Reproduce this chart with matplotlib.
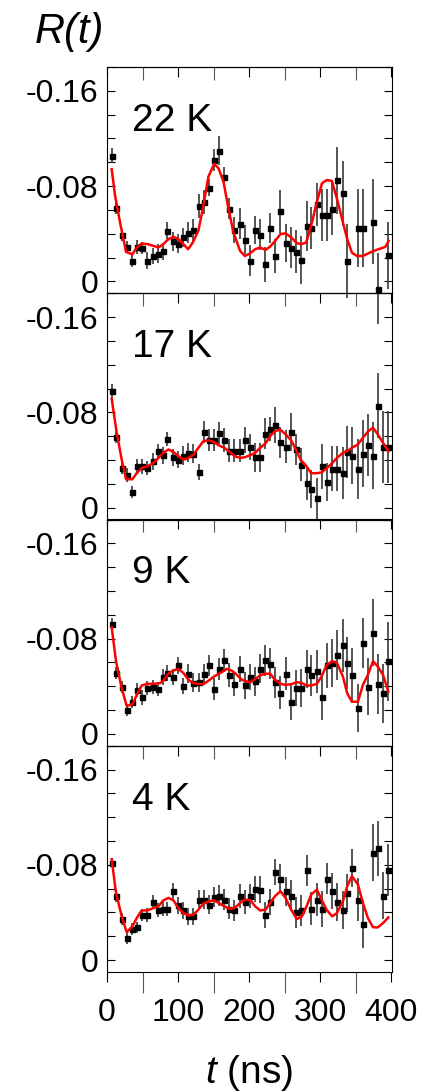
import numpy as np
import matplotlib
matplotlib.use('Agg')
import matplotlib.pyplot as plt
from matplotlib.ticker import MultipleLocator, FuncFormatter

plt.rcParams['font.family'] = ['Liberation Sans', 'DejaVu Sans']
plt.rcParams['mathtext.fontset'] = 'custom'
plt.rcParams['mathtext.it'] = 'Liberation Sans:italic'
plt.rcParams['mathtext.rm'] = 'Liberation Sans'
plt.rcParams['axes.unicode_minus'] = False

nan = np.nan

# time grid of the data points (ns)
t = [6.6, 12.2, 20.7, 27.7, 35.7, 42.7, 48.8, 56.8, 64.1, 71.2, 78.2, 85.0, 92.5,
     100.0, 106.3, 114.3, 121.4, 129.3, 136.0, 143.1, 150.7, 157.3, 165.3, 172.3,
     179.1, 186.6, 193.9, 201.9, 208.5, 215.5, 223.0, 229.6, 236.2, 244.1, 251.2,
     259.2, 265.7, 272.3, 280.8, 287.3, 295.3, 301.9, 308.9, 316.9, 323.5, 331.9,
     338.0, 344.6, 353.1, 360.1, 367.1, 374.2, 380.8, 388.3, 395.8]

# R(t) data, one list per temperature
r_22K = [-0.1055, -0.0618, -0.0392, -0.0289, -0.0173, -0.0289, -0.0281, -0.0173, -0.0213,
         -0.0233, -0.0252, -0.0426, -0.0335, -0.0315, -0.0369, -0.0409, -0.0431, -0.0630,
         -0.0667, -0.0786, -0.1018, -0.1098, -0.0879, -0.0610, -0.0431, -0.0485, -0.0349,
         -0.0173, -0.0431, -0.0392, -0.0142, -0.0448, -0.0213, -0.0590, -0.0321, -0.0284,
         -0.0250, -0.0179, -0.0468, -0.0448, -0.0647, -0.0556, -0.0556, -0.0610, -0.0848,
         -0.0738, -0.0173, nan, -0.0448, -0.0448, nan, -0.0502, 0.0062, nan, -0.0218]
e_22K = [0.0065, 0.005, 0.005, 0.005, 0.005, 0.006, 0.005, 0.007, 0.007, 0.008, 0.007,
         0.007, 0.008, 0.008, 0.008, 0.009, 0.009, 0.010, 0.010, 0.007, 0.009, 0.012, 0.008,
         0.009, 0.011, 0.013, 0.012, 0.013, 0.012, 0.013, 0.015, 0.013, 0.014, 0.018, 0.016,
         0.017, 0.018, 0.020, 0.021, 0.018, 0.018, 0.022, 0.022, 0.022, 0.028, 0.027, 0.031,
         nan, 0.033, 0.033, nan, 0.036, 0.030, nan, 0.028]

r_17K = [-0.0979, -0.0596, -0.0332, -0.0275, -0.0128, -0.0346, -0.0346, -0.0332, -0.0389,
         -0.0474, -0.0440, -0.0579, -0.0423, -0.0403, -0.0437, -0.0460, -0.0451, -0.0298,
         -0.0635, -0.0567, -0.0567, -0.0627, -0.0567, -0.0479, -0.0479, -0.0479, -0.0567,
         -0.0511, -0.0423, -0.0423, -0.0621, -0.0658, -0.0695, -0.0550, -0.0511, -0.0638,
         -0.0488, -0.0360, -0.0204, -0.0153, -0.0077, -0.0346, -0.0218, -0.0326, -0.0326,
         -0.0289, -0.0468, -0.0437, -0.0326, -0.0454, -0.0525, -0.0437, -0.0857, -0.0508,
         -0.0508]
e_17K = [0.006, 0.005, 0.005, 0.006, 0.005, 0.006, 0.006, 0.006, 0.007, 0.006, 0.007,
         0.006, 0.007, 0.007, 0.008, 0.008, 0.008, 0.007, 0.009, 0.009, 0.009, 0.009, 0.010,
         0.010, 0.010, 0.010, 0.011, 0.011, 0.012, 0.012, 0.013, 0.010, 0.015, 0.013, 0.014,
         0.016, 0.013, 0.014, 0.014, 0.016, 0.017, 0.019, 0.016, 0.019, 0.019, 0.022, 0.022,
         0.024, 0.025, 0.028, 0.026, 0.028, 0.027, 0.030, 0.030]

r_9K = [-0.0922, -0.0511, -0.0397, -0.0199, -0.0270, -0.0369, -0.0306, -0.0383, -0.0392,
        -0.0374, -0.0477, -0.0511, -0.0477, -0.0576, -0.0403, -0.0505, -0.0431, -0.0434,
        -0.0505, -0.0576, -0.0377, -0.0545, -0.0616, -0.0496, -0.0417, -0.0545, -0.0406,
        -0.0477, -0.0440, -0.0548, -0.0616, -0.0587, -0.0434, -0.0346, -0.0505, -0.0264,
        -0.0383, -0.0383, -0.0545, -0.0491, -0.0525, -0.0306, -0.0576, -0.0596, -0.0658,
        -0.0743, -0.0596, -0.0491, -0.0218, -0.0760, -0.0397, -0.0851, -0.0420, -0.0340,
        -0.0610]
e_9K = [0.005, 0.005, 0.005, 0.005, 0.005, 0.006, 0.006, 0.006, 0.006, 0.006, 0.007,
        0.007, 0.007, 0.007, 0.007, 0.008, 0.008, 0.008, 0.008, 0.009, 0.009, 0.009, 0.010,
        0.010, 0.010, 0.011, 0.011, 0.011, 0.012, 0.012, 0.013, 0.013, 0.013, 0.014, 0.014,
        0.015, 0.015, 0.016, 0.016, 0.017, 0.018, 0.019, 0.019, 0.020, 0.021, 0.022, 0.022,
        0.023, 0.020, 0.021, 0.024, 0.028, 0.025, 0.025, 0.033]

r_4K = [-0.0818, -0.0541, -0.0344, -0.0183, -0.0262, -0.0274, -0.0381, -0.0381, -0.0488,
        -0.0423, -0.0431, -0.0431, -0.0578, -0.0460, -0.0417, -0.0367, -0.0367, -0.0508,
        -0.0508, -0.0465, -0.0530, -0.0541, -0.0508, -0.0431, -0.0417, -0.0541, -0.0488,
        -0.0541, -0.0598, -0.0592, -0.0381, -0.0488, -0.0742, -0.0685, -0.0578, -0.0541,
        -0.0403, -0.0417, -0.0756, -0.0431, -0.0508, -0.0431, -0.0685, -0.0578, -0.0488,
        -0.0417, -0.0564, -0.0770, -0.0508, -0.0305, nan, -0.0902, -0.0939, -0.0541, -0.0756]
e_4K = [0.004, 0.005, 0.005, 0.005, 0.005, 0.005, 0.005, 0.006, 0.006, 0.006, 0.006,
        0.006, 0.007, 0.007, 0.007, 0.007, 0.007, 0.008, 0.008, 0.008, 0.008, 0.009, 0.009,
        0.009, 0.009, 0.010, 0.010, 0.010, 0.011, 0.011, 0.011, 0.011, 0.011, 0.012, 0.012,
        0.013, 0.013, 0.013, 0.013, 0.014, 0.014, 0.015, 0.013, 0.015, 0.016, 0.016, 0.016,
        0.016, 0.018, 0.020, nan, 0.024, 0.023, 0.020, 0.022]

# fitted curves (red lines)
fit_t_22K = [6.6, 11.3, 18.3, 26.8, 35.7, 41.8, 48.8, 57.3, 65.3, 72.3, 79.3, 86.4, 93.4,
             100.5, 107.5, 114.1, 120.7, 128.6, 135.7, 142.7, 150.7, 156.8, 163.9, 170.9,
             177.9, 187.3, 193.9, 201.4, 208.5, 215.5, 223.0, 229.6, 236.6, 244.1, 251.2,
             259.2, 267.1, 273.3, 280.3, 287.3, 295.3, 302.4, 309.4, 316.4, 323.5, 331.9,
             338.0, 344.6, 351.7, 360.1, 367.6, 375.1, 384.5, 391.6, 396.3]
fit_r_22K = [-0.0942, -0.0723, -0.0496, -0.0247, -0.0227, -0.0284, -0.0318, -0.0312, -0.0298,
             -0.0284, -0.0312, -0.0355, -0.0374, -0.0355, -0.0312, -0.0270, -0.0326, -0.0426,
             -0.0638, -0.0879, -0.0987, -0.0950, -0.0837, -0.0610, -0.0411, -0.0255, -0.0213,
             -0.0235, -0.0270, -0.0284, -0.0264, -0.0292, -0.0340, -0.0397, -0.0403, -0.0369,
             -0.0321, -0.0312, -0.0326, -0.0468, -0.0667, -0.0823, -0.0851, -0.0843, -0.0695,
             -0.0496, -0.0355, -0.0241, -0.0213, -0.0213, -0.0235, -0.0255, -0.0275, -0.0289,
             -0.0340]

fit_t_17K = [6.6, 13.6, 20.7, 26.8, 35.7, 41.8, 48.8, 56.8, 65.3, 72.3, 79.3, 86.4, 93.4,
             100.5, 107.5, 114.6, 121.6, 128.6, 135.7, 143.2, 150.7, 157.3, 165.3, 172.3,
             180.3, 187.3, 193.9, 201.4, 208.5, 215.5, 223.0, 229.6, 236.6, 244.1, 251.2,
             259.2, 265.7, 272.3, 280.8, 287.3, 295.3, 301.9, 309.4, 316.9, 323.5, 331.9,
             338.0, 344.6, 353.1, 360.1, 367.1, 374.2, 380.8, 388.3, 395.8]
fit_r_17K = [-0.0914, -0.0630, -0.0403, -0.0238, -0.0238, -0.0289, -0.0332, -0.0346, -0.0374,
             -0.0417, -0.0460, -0.0488, -0.0468, -0.0431, -0.0403, -0.0417, -0.0445, -0.0502,
             -0.0559, -0.0565, -0.0550, -0.0522, -0.0502, -0.0468, -0.0431, -0.0417, -0.0423,
             -0.0440, -0.0460, -0.0502, -0.0539, -0.0601, -0.0644, -0.0653, -0.0616, -0.0565,
             -0.0488, -0.0403, -0.0346, -0.0289, -0.0289, -0.0295, -0.0332, -0.0374, -0.0417,
             -0.0460, -0.0474, -0.0502, -0.0531, -0.0587, -0.0638, -0.0672, -0.0616, -0.0545,
             -0.0474]

fit_t_9K = [6.6, 12.7, 20.7, 27.7, 35.7, 41.8, 48.8, 56.8, 65.3, 74.7, 79.3, 86.4, 93.4,
            100.5, 107.5, 114.6, 121.6, 128.6, 135.7, 143.2, 150.7, 159.2, 168.6, 175.6,
            182.6, 189.7, 196.7, 201.9, 208.5, 215.5, 223.0, 229.6, 236.2, 244.1, 251.2,
            259.2, 267.1, 274.2, 280.8, 287.3, 295.3, 301.9, 308.9, 316.9, 323.5, 331.9,
            338.0, 344.6, 353.1, 360.1, 367.1, 374.2, 380.8, 388.3, 395.8]
fit_r_9K = [-0.0894, -0.0610, -0.0383, -0.0235, -0.0247, -0.0326, -0.0406, -0.0420, -0.0420,
            -0.0426, -0.0448, -0.0505, -0.0533, -0.0545, -0.0511, -0.0454, -0.0426, -0.0420,
            -0.0417, -0.0448, -0.0482, -0.0511, -0.0545, -0.0531, -0.0496, -0.0454, -0.0440,
            -0.0434, -0.0460, -0.0491, -0.0505, -0.0505, -0.0454, -0.0420, -0.0411, -0.0417,
            -0.0434, -0.0426, -0.0406, -0.0406, -0.0420, -0.0482, -0.0576, -0.0610, -0.0596,
            -0.0482, -0.0340, -0.0270, -0.0270, -0.0411, -0.0496, -0.0610, -0.0567, -0.0496,
            -0.0355]

fit_t_4K = [6.6, 12.7, 20.7, 27.7, 35.7, 41.8, 48.8, 56.8, 65.3, 72.3, 79.3, 86.4, 93.4,
            100.5, 107.5, 114.6, 121.6, 128.6, 135.7, 143.2, 150.7, 157.3, 165.3, 172.3,
            179.3, 187.3, 193.9, 201.9, 208.5, 215.5, 223.0, 229.6, 236.2, 244.1, 251.2,
            259.2, 267.1, 274.2, 280.8, 287.3, 295.3, 301.9, 308.9, 316.9, 323.5, 331.9,
            338.0, 344.6, 353.1, 360.1, 367.1, 374.2, 380.8, 388.3, 395.8]
fit_r_4K = [-0.0846, -0.0564, -0.0367, -0.0234, -0.0282, -0.0353, -0.0417, -0.0417, -0.0437,
            -0.0451, -0.0502, -0.0522, -0.0502, -0.0437, -0.0395, -0.0375, -0.0381, -0.0423,
            -0.0474, -0.0494, -0.0502, -0.0479, -0.0451, -0.0431, -0.0437, -0.0479, -0.0508,
            -0.0502, -0.0451, -0.0417, -0.0423, -0.0479, -0.0536, -0.0578, -0.0522, -0.0423,
            -0.0344, -0.0367, -0.0451, -0.0550, -0.0592, -0.0508, -0.0423, -0.0367, -0.0395,
            -0.0494, -0.0620, -0.0705, -0.0635, -0.0479, -0.0353, -0.0276, -0.0274, -0.0310,
            -0.0358]

labels = ['22 K', '17 K', '9 K', '4 K']
panels = [(r_22K, e_22K, fit_t_22K, fit_r_22K),
          (r_17K, e_17K, fit_t_17K, fit_r_17K),
          (r_9K, e_9K, fit_t_9K, fit_r_9K),
          (r_4K, e_4K, fit_t_4K, fit_r_4K)]

W, H = 424, 1092
fig = plt.figure(figsize=(W / 100, H / 100), dpi=100)
gs = fig.add_gridspec(4, 1, left=107 / W, right=392 / W, top=1 - 67 / H,
                      bottom=1 - 972 / H, hspace=0)

yfmt = FuncFormatter(lambda v, p: '0' if abs(v) < 1e-9 else '%.2f' % v)

for i, (r, e, ft, fr) in enumerate(panels):
    ax = fig.add_subplot(gs[i])
    ax.patch.set_visible(False)
    eb = ax.errorbar(t, r, yerr=e, fmt='s', ms=3.6, color='black', ecolor='#383838',
                     elinewidth=1.2, capsize=0, zorder=3)
    for c in eb[2]:
        c.set_clip_on(False)
    ax.plot(ft, fr, color='#ff0000', lw=1.8, zorder=4)

    ax.set_xlim(0, 401)
    ax.set_ylim(0.01, -0.18)
    for s in ax.spines.values():
        s.set_linewidth(0.8)

    ax.yaxis.set_major_locator(MultipleLocator(0.08))
    ax.yaxis.set_minor_locator(MultipleLocator(0.02))
    ax.yaxis.set_major_formatter(yfmt)
    ax.tick_params(axis='y', which='both', direction='in', left=True, right=True,
                   length=6, width=0.8, labelsize=23, pad=6)

    ax.xaxis.set_major_locator(MultipleLocator(100))
    ax.xaxis.set_minor_locator(MultipleLocator(50))
    top = ax.secondary_xaxis('top')
    top.xaxis.set_major_locator(MultipleLocator(100))
    top.xaxis.set_minor_locator(MultipleLocator(50))
    top.tick_params(axis='x', which='major', direction='in', length=7, width=0.8,
                    labeltop=False)
    top.tick_params(axis='x', which='minor', direction='in', length=9, width=0.8,
                    color='#555555')
    top.spines['top'].set_linewidth(0.8)

    if i < 3:
        ax.tick_params(axis='x', which='both', bottom=False, labelbottom=False)
    else:
        ax.tick_params(axis='x', which='major', direction='out', length=7.5, width=0.8,
                       labelsize=23, pad=11)
        ax.tick_params(axis='x', which='minor', direction='out', length=15, width=0.8,
                       color='#555555')

    ax.text(0.088, 0.718, labels[i], transform=ax.transAxes, fontsize=28,
            va='baseline', ha='left')

fig.text(35 / W, 1 - 43 / H, 'R(t)', fontsize=30, style='italic', va='baseline')
fig.text(249.5 / W, 1 - 1083 / H, '$t$ (ns)', fontsize=28, ha='center', va='baseline')

fig.savefig('out.png', dpi=100)
